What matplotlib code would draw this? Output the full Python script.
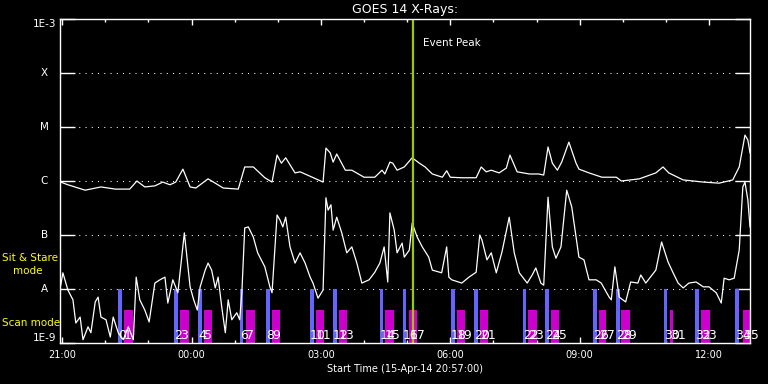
import numpy as np
import matplotlib
matplotlib.use("Agg")
import matplotlib.pyplot as plt
from matplotlib.ticker import FixedLocator, FuncFormatter

matplotlib.rcParams['font.family'] = 'DejaVu Sans'

# ── Colours ──────────────────────────────────────────────────
BG      = "black"
FG      = "white"
C_SIT   = "#6464ff"
C_SCAN  = "#cc00cc"
C_EVENT = "#a0c800"
C_NOTE  = "#ffff00"

# ── Data (time = minutes since 15-Apr-14 20:57:00) ───────────
start_hh, start_mm = 20, 57
event_peak = 491

# long channel (1-8 A), log10 flux
long_t = [1, 11, 35, 57, 77, 97, 107, 118, 132, 143, 153, 161, 171, 181, 189,
          206, 216, 227, 248, 257, 269, 285, 295, 302, 308, 314, 327, 334, 351,
          366, 370, 376, 380, 385, 397, 406, 423, 438, 448, 452, 459, 463, 469,
          479, 490, 500, 508, 518, 532, 538, 543, 559, 570, 579, 586, 593, 600,
          611, 621, 626, 636, 653, 666, 673, 679, 685, 692, 698, 708, 718, 722,
          736, 754, 774, 781, 806, 829, 839, 847, 867, 895, 917, 936, 945, 953,
          957, 960]
long_log = [-6.02, -6.07, -6.17, -6.11, -6.15, -6.15, -6.00, -6.11, -6.09, -6.02,
            -6.07, -6.02, -5.78, -6.11, -6.13, -5.96, -6.04, -6.13, -6.15, -5.74,
            -5.74, -5.94, -6.02, -5.52, -5.67, -5.57, -5.85, -5.83, -5.93, -6.02,
            -5.39, -5.48, -5.65, -5.50, -5.80, -5.80, -5.93, -5.93, -5.80, -5.87,
            -5.65, -5.67, -5.80, -5.74, -5.57, -5.67, -5.74, -5.87, -5.93, -5.81,
            -5.93, -5.94, -5.94, -5.94, -5.74, -5.83, -5.80, -5.85, -5.76, -5.52,
            -5.83, -5.87, -5.87, -5.89, -5.37, -5.67, -5.80, -5.65, -5.28, -5.67,
            -5.78, -5.85, -5.93, -5.93, -6.00, -5.96, -5.85, -5.74, -5.85, -5.98,
            -6.02, -6.04, -5.98, -5.74, -5.15, -5.24, -5.48]

# short channel (0.5-4 A), log10 flux
short_t = [1, 4, 11, 18, 22, 28, 32, 39, 43, 49, 53, 57, 64, 70, 74, 81, 88, 95,
           102, 106, 111, 118, 124, 132, 139, 146, 150, 157, 164, 173, 181, 186,
           191, 195, 202, 206, 211, 216, 220, 225, 230, 234, 239, 246, 250, 253,
           257, 262, 269, 275, 285, 292, 295, 302, 306, 310, 314, 320, 327, 334,
           341, 348, 352, 359, 366, 370, 373, 377, 380, 385, 392, 399, 406, 413,
           420, 430, 438, 445, 451, 456, 459, 465, 469, 476, 479, 486, 490, 497,
           504, 513, 518, 531, 538, 541, 545, 559, 569, 579, 584, 587, 594, 600,
           607, 615, 625, 632, 639, 650, 657, 662, 669, 673, 679, 685, 690, 697,
           705, 712, 722, 729, 736, 746, 753, 764, 767, 772, 778, 787, 794, 804,
           808, 815, 829, 837, 846, 853, 860, 867, 875, 885, 895, 903, 913, 920,
           924, 931, 938, 945, 950, 953, 957, 960]
short_log = [-7.93, -7.70, -8.02, -8.20, -8.63, -8.52, -8.94, -8.70, -8.81, -8.24,
             -8.15, -8.52, -8.57, -8.89, -8.52, -8.81, -8.94, -8.70, -8.94, -7.78,
             -8.20, -8.39, -8.61, -7.89, -7.83, -7.78, -8.26, -7.83, -8.07, -6.96,
             -7.96, -8.20, -8.39, -7.96, -7.65, -7.52, -7.65, -7.98, -7.78, -8.33,
             -8.81, -8.20, -8.57, -8.44, -8.57, -8.07, -6.87, -6.85, -7.04, -7.33,
             -7.59, -7.96, -8.07, -6.63, -6.72, -6.85, -6.67, -7.22, -7.52, -7.33,
             -7.52, -7.78, -7.89, -8.17, -8.02, -6.31, -6.54, -6.44, -6.91, -6.67,
             -6.96, -7.33, -7.22, -7.52, -7.89, -7.83, -7.69, -7.52, -7.22, -7.87,
             -6.59, -6.91, -7.33, -7.15, -7.41, -7.28, -6.78, -7.04, -7.22, -7.41,
             -7.65, -7.70, -7.22, -7.78, -7.83, -7.89, -7.78, -7.69, -7.00, -7.09,
             -7.46, -7.33, -7.70, -7.31, -6.67, -7.33, -7.70, -7.89, -7.74, -7.61,
             -7.89, -7.93, -6.30, -7.22, -7.43, -7.22, -6.17, -6.48, -7.41, -7.46,
             -7.83, -7.83, -7.89, -8.15, -8.20, -7.59, -8.15, -8.24, -7.87, -7.89,
             -7.74, -7.89, -7.65, -7.13, -7.50, -7.70, -7.89, -7.98, -7.89, -7.87,
             -7.96, -7.96, -8.07, -8.26, -7.80, -7.83, -7.80, -7.28, -6.11, -6.02,
             -6.35, -6.85]

# observations: sit & stare (blue) and scan (magenta) start / duration, minutes
sit_start = [81, 159, 192, 250, 287, 348, 380, 445, 477, 544, 576, 644, 675,
             742, 774, 840, 884, 939]
sit_dur = [5] * 18
scan_start = [89, 167, 200, 259, 295, 356, 388, 452, 486, 552, 584, 651, 683,
              750, 781, 849, 892, 950]
scan_dur = [12, 12, 11, 12, 11, 11, 11, 12, 11, 11, 11, 12, 11, 10, 12, 4, 12, 11]

level_vals = [1e-9, 1e-8, 1e-7, 1e-6, 1e-5, 1e-4, 1e-3]
level_lbls = ["1E-9", "A", "B", "C", "M", "X", "1E-3"]

# ── Canvas ───────────────────────────────────────────────────
W, H = 768, 384
fig = plt.figure(figsize=(W / 100, H / 100), dpi=100, facecolor=BG)
ax = fig.add_axes([60 / W, 41 / H, 690 / W, 324 / H], facecolor=BG)

ax.set_yscale("log")
ax.set_xlim(0, 960)
ax.set_ylim(1e-9, 1e-3)

for sp in ax.spines.values():
    sp.set_edgecolor(FG)
    sp.set_linewidth(1.0)
    sp.set_zorder(6)

# y: long inward ticks both sides, dotted grid, custom labels
ax.yaxis.set_major_locator(FixedLocator(level_vals))
ax.yaxis.set_minor_locator(FixedLocator([]))
ax.tick_params(axis="y", which="major", direction="in", length=10.8,
               width=1.0, color=FG, left=True, right=True,
               labelleft=False, labelright=False)
ax.grid(True, axis="y", color=FG, linestyle=(0, (1, 5)), linewidth=0.75)
ytr = ax.get_yaxis_transform()
for v, lbl in zip(level_vals, level_lbls):
    va = "center"
    if lbl == "1E-3":
        va = "top"
    elif lbl == "1E-9":
        va = "bottom"
    ax.text(-0.023, v, lbl, transform=ytr, ha="center", va=va,
            fontsize=7.5, color=FG)

# x: hours ticks top and bottom
def tfmt(m, pos):
    tot = start_hh * 60 + start_mm + int(round(m))
    return "%02d:%02d" % ((tot // 60) % 24, tot % 60)

ax.xaxis.set_major_locator(FixedLocator(np.arange(3, 961, 180)))
ax.xaxis.set_minor_locator(FixedLocator(np.arange(3, 961, 60)))
ax.xaxis.set_major_formatter(FuncFormatter(tfmt))
ax.tick_params(axis="x", which="major", direction="in", length=4.3,
               width=1.0, color=FG, top=True, bottom=True,
               labelsize=7, labelcolor=FG, pad=5)
ax.tick_params(axis="x", which="minor", direction="in", length=2.2,
               width=1.0, color=FG, top=True, bottom=True)

# observation bars + index labels
xtr = ax.get_xaxis_transform()
for i, (s, d) in enumerate(zip(sit_start, sit_dur)):
    ax.axvspan(s, s + d, ymin=0, ymax=1 / 6, color=C_SIT, lw=0, zorder=2)
for i, (s, d) in enumerate(zip(scan_start, scan_dur)):
    ax.axvspan(s, s + d, ymin=0, ymax=0.102, color=C_SCAN, lw=0, zorder=2)
for i, s in enumerate(sit_start):
    ax.text(s, 0.012, str(2 * i), transform=xtr, ha="left", va="baseline",
            fontsize=9, color=FG, zorder=5)
for i, s in enumerate(scan_start):
    ax.text(s, 0.012, str(2 * i + 1), transform=xtr, ha="left", va="baseline",
            fontsize=9, color=FG, zorder=5)

# flux curves
ax.plot(long_t, 10 ** np.array(long_log), color=FG, lw=0.9, zorder=3)
ax.plot(short_t, 10 ** np.array(short_log), color=FG, lw=0.9, zorder=3)

# event peak
ax.axvline(event_peak, color=C_EVENT, lw=1.6, zorder=4)
ax.annotate("Event Peak", xy=(event_peak, 1), xycoords=("data", "axes fraction"),
            xytext=(10, -24), textcoords="offset pixels",
            ha="left", va="center", fontsize=7.5, color=FG)

# ── Texts ────────────────────────────────────────────────────
fig.text(405 / W, 1 - 10 / H, "GOES 14 X-Rays:", ha="center", va="center",
         fontsize=9, color=FG)
fig.text(405 / W, 1 - 369 / H, "Start Time (15-Apr-14 20:57:00)",
         ha="center", va="center", fontsize=7, color=FG)
fig.text(2 / W, 1 - 258 / H, "Sit & Stare", ha="left", va="center",
         fontsize=7.5, color=C_NOTE)
fig.text(13 / W, 1 - 271 / H, "mode", ha="left", va="center",
         fontsize=7.5, color=C_NOTE)
fig.text(2 / W, 1 - 323 / H, "Scan mode", ha="left", va="center",
         fontsize=7.5, color=C_NOTE)

fig.savefig("out.png", dpi=100, facecolor=BG)
